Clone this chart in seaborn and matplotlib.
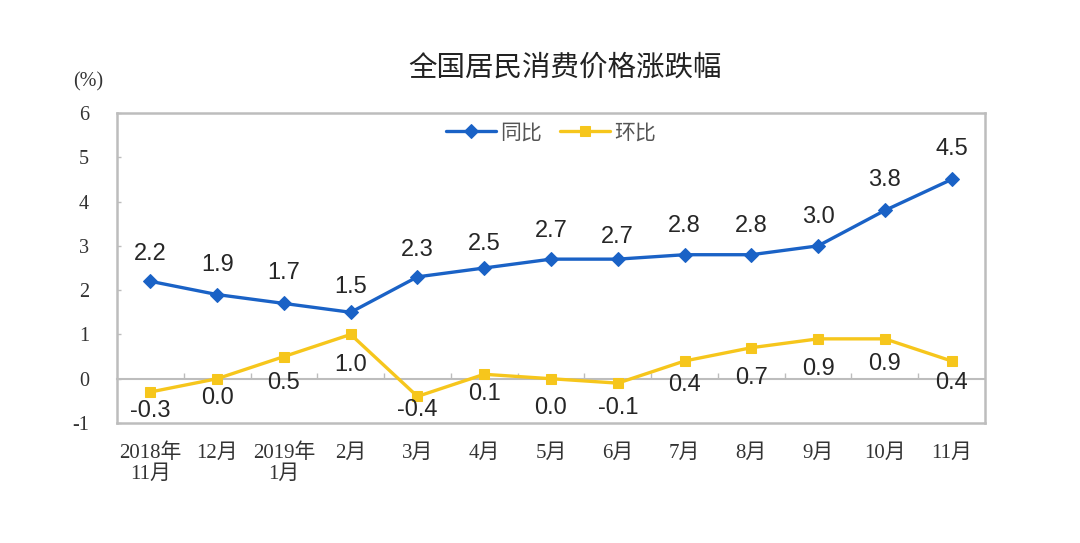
import matplotlib
matplotlib.use("Agg")
import matplotlib.pyplot as plt
import seaborn as sns
import numpy as np
import pandas as pd

categories = ["2018年\n11月", "12月", "2019年\n1月", "2月", "3月", "4月", "5月",
              "6月", "7月", "8月", "9月", "10月", "11月"]
yoy = [2.2, 1.9, 1.7, 1.5, 2.3, 2.5, 2.7, 2.7, 2.8, 2.8, 3.0, 3.8, 4.5]
mom = [-0.3, 0.0, 0.5, 1.0, -0.4, 0.1, 0.0, -0.1, 0.4, 0.7, 0.9, 0.9, 0.4]
yticks = [-1, 0, 1, 2, 3, 4, 5, 6]

# label offsets (points) – styling only
yoy_off = [20, 21, 22, 18, 19, 17, 20, 16, 21, 21, 21, 22, 22]
mom_off = [-14, -14, -19, -22, -10, -14, -21, -18, -17, -22, -22, -18, -16]

sns.set_theme(style="white")
plt.rcParams['font.family'] = ['Noto Sans CJK SC', 'DejaVu Sans']

BLUE = "#1a62c6"
YELLOW = "#f6c61c"
GRAY = "#bdbdbd"

fig = plt.figure(figsize=(10.8, 5.43), dpi=100)
ax = fig.add_axes([117/1080, 1-423/543, (985-117)/1080, (423-113)/543])

x = np.arange(len(categories))
df = pd.DataFrame({"x": x, "同比": yoy, "环比": mom})

sns.lineplot(data=df, x="x", y="同比", ax=ax, color=BLUE, linewidth=2.4,
             marker="D", markersize=7, markeredgecolor=BLUE, label="同比", sort=False)
sns.lineplot(data=df, x="x", y="环比", ax=ax, color=YELLOW, linewidth=2.4,
             marker="s", markersize=6.5, markeredgecolor=YELLOW, label="环比", sort=False)

for i, v in enumerate(yoy):
    ax.annotate(f"{v:.1f}", (i, v), xytext=(0, yoy_off[i]), textcoords="offset points",
                ha="center", va="center", fontsize=17, color="#262626",
                family=["Liberation Sans", "DejaVu Sans"])
for i, v in enumerate(mom):
    ax.annotate(f"{v:.1f}", (i, v), xytext=(0, mom_off[i]), textcoords="offset points",
                ha="center", va="center", fontsize=17, color="#262626",
                family=["Liberation Sans", "DejaVu Sans"])

ax.set_xlim(-0.5, len(categories) - 0.5)
ax.set_ylim(-1, 6)
ax.set_xlabel("")
ax.set_ylabel("")

ax.set_yticks(yticks)
ax.set_yticklabels([str(t) for t in yticks])
ax.tick_params(axis="y", direction="in", length=3, color=GRAY, width=1, pad=20,
               labelsize=14.5, labelcolor="#333333", left=True)
for lab in ax.get_yticklabels():
    lab.set_family(["Liberation Serif", "DejaVu Serif"])

ax.set_xticks(x)
ax.set_xticklabels(categories)
ax.tick_params(axis="x", length=0, pad=15, labelsize=15, labelcolor="#333333")
for lab in ax.get_xticklabels():
    lab.set_family(["Liberation Serif", "Noto Sans CJK SC"])
    lab.set_linespacing(1.1)
    lab.set_verticalalignment("top")

for s in ax.spines.values():
    s.set_visible(True)
    s.set_color(GRAY)
    s.set_linewidth(1.8)

# zero line with small inward ticks between categories
sec = ax.secondary_xaxis(1/7)
sec.set_xticks(np.arange(len(categories) - 1) + 0.5)
sec.set_xticklabels([])
sec.tick_params(axis="x", direction="in", length=4, color=GRAY, width=1)
sec.spines["bottom"].set_color(GRAY)
sec.spines["bottom"].set_linewidth(1.5)

leg = ax.legend(loc="upper center", bbox_to_anchor=(0.5, 1.0), ncol=2, frameon=False,
                fontsize=15, handlelength=2.4, handletextpad=0.2, columnspacing=0.9,
                borderaxespad=0.0)
for t in leg.get_texts():
    t.set_color("#555555")

fig.text(565/1080, 1-68/543, "全国居民消费价格涨跌幅", ha="center", va="center",
         fontsize=20.5, color="#222222")
fig.text(88/1080, 1-82/543, "(%)", ha="center", va="center", fontsize=14.5,
         color="#333333", family=["Liberation Serif", "DejaVu Serif"])

fig.savefig("out.png", dpi=100, facecolor="white")
